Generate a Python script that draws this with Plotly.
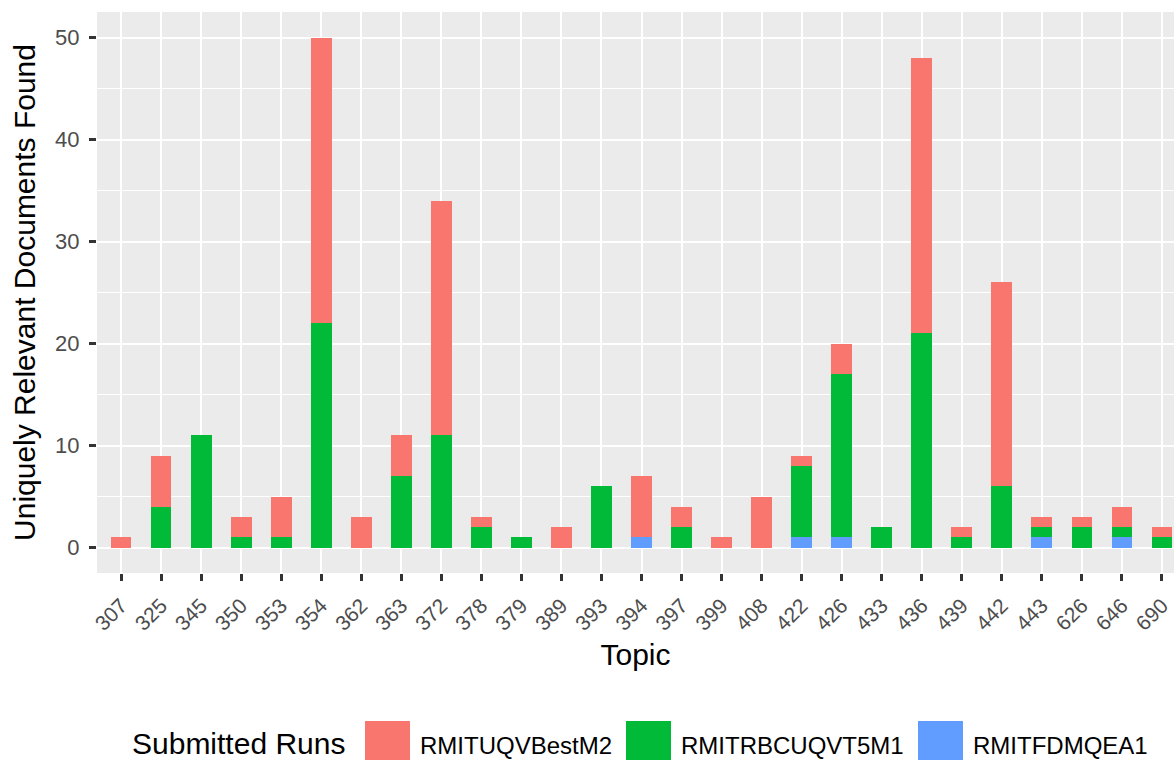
import plotly.graph_objects as go

topics = ["307", "325", "345", "350", "353", "354", "362", "363", "372", "378",
          "379", "389", "393", "394", "397", "399", "408", "422", "426", "433",
          "436", "439", "442", "443", "626", "646", "690"]
run_fdmqea1 = [0, 0, 0, 0, 0, 0, 0, 0, 0, 0,
               0, 0, 0, 1, 0, 0, 0, 1, 1, 0,
               0, 0, 0, 1, 0, 1, 0]
run_rbcuqvt5m1 = [0, 4, 11, 1, 1, 22, 0, 7, 11, 2,
                  1, 0, 6, 0, 2, 0, 0, 7, 16, 2,
                  21, 1, 6, 1, 2, 1, 1]
run_uqvbestm2 = [1, 5, 0, 2, 4, 28, 3, 4, 23, 1,
                 0, 2, 0, 6, 2, 1, 5, 1, 3, 0,
                 27, 1, 20, 1, 1, 2, 1]
run_names = ["RMITUQVBestM2", "RMITRBCUQVT5M1", "RMITFDMQEA1"]
run_colors = ["#F8766D", "#00BA38", "#619CFF"]
y_ticks = [0, 10, 20, 30, 40, 50]

FONT = "Liberation Sans, Arial, sans-serif"

fig = go.Figure()
for name, vals, col in [(run_names[2], run_fdmqea1, run_colors[2]),
                        (run_names[1], run_rbcuqvt5m1, run_colors[1]),
                        (run_names[0], run_uqvbestm2, run_colors[0])]:
    fig.add_trace(go.Bar(x=topics, y=vals, name=name, marker_color=col,
                         marker_line_width=0, width=0.52, showlegend=False))

W, H = 1174, 760
ML, MR, MT, MB = 97, 0, 12, 187
PW, PH = W - ML - MR, H - MT - MB


def px_x(px):
    return (px - ML) / PW


def px_y(py):
    return (H - MB - py) / PH


fig.update_layout(
    width=W, height=H,
    barmode="stack",
    margin=dict(l=ML, r=MR, t=MT, b=MB, pad=0),
    paper_bgcolor="white",
    plot_bgcolor="#EBEBEB",
    font=dict(family=FONT, color="#000000"),
    xaxis=dict(
        type="category", categoryorder="array", categoryarray=topics,
        range=[-0.6, 26.3],
        showgrid=True, gridcolor="white", gridwidth=2.4,
        ticks="outside", ticklen=7, tickwidth=2.5, tickcolor="#333333",
        tickangle=-45, ticklabelstandoff=4,
        tickfont=dict(size=21, color="#4D4D4D", family=FONT),
        title=dict(text="Topic", font=dict(size=30, color="#000000", family=FONT), standoff=10),
        zeroline=False, showline=False,
    ),
    yaxis=dict(
        range=[-2.5, 52.5],
        tickvals=y_ticks,
        showgrid=True, gridcolor="white", gridwidth=2.4,
        minor=dict(dtick=5, tick0=0, showgrid=True, gridcolor="white", gridwidth=1.2),
        ticks="outside", ticklen=7, tickwidth=2.5, tickcolor="#333333",
        ticklabelstandoff=5,
        tickfont=dict(size=22, color="#4D4D4D", family=FONT),
        title=dict(text="Uniquely Relevant Documents Found",
                   font=dict(size=30, color="#000000", family=FONT), standoff=10),
        zeroline=False, showline=False,
    ),
)

# manual ggplot-style legend at bottom
shapes = []
annotations = [dict(text="Submitted Runs", x=px_x(130), y=px_y(744), xref="paper", yref="paper",
                    xanchor="left", yanchor="middle", showarrow=False,
                    font=dict(size=30, color="#000000", family=FONT))]
key_x = [365, 626, 918]
for name, col, kx in zip(run_names, run_colors, key_x):
    shapes.append(dict(type="rect", xref="paper", yref="paper",
                       x0=px_x(kx), x1=px_x(kx + 45), y0=px_y(721), y1=px_y(767),
                       fillcolor=col, line=dict(width=0)))
    annotations.append(dict(text=name, x=px_x(kx + 53), y=px_y(745), xref="paper", yref="paper",
                            xanchor="left", yanchor="middle", showarrow=False,
                            font=dict(size=24, color="#000000", family=FONT)))
fig.update_layout(shapes=shapes, annotations=annotations)

fig.write_html("out.html", config={"displayModeBar": False},
               post_script="document.body.style.margin='0';document.body.style.overflow='hidden';")
